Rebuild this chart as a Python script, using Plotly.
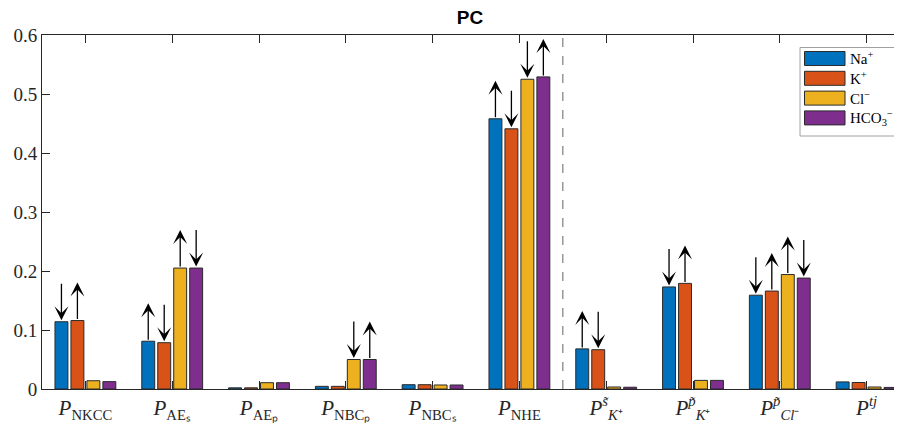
import plotly.graph_objects as go

categories = ["NKCC", "AEs", "AEp", "NBCp", "NBCs", "NHE", "Ks", "Kp", "Clp", "tj"]
tick_labels = [
    "<i>P</i><sub>NKCC</sub>",
    "<i>P</i><sub>AEₛ</sub>",
    "<i>P</i><sub>AEₚ</sub>",
    "<i>P</i><sub>NBCₚ</sub>",
    "<i>P</i><sub>NBCₛ</sub>",
    "<i>P</i><sub>NHE</sub>",
    "<i>P</i><sup><i>s̃</i></sup><sub><i>K</i>⁺</sub>",
    "<i>P</i><sup><i>p̃</i></sup><sub><i>K</i>⁺</sub>",
    "<i>P</i><sup><i>p̃</i></sup><sub><i>Cl</i>⁻</sub>",
    "<i>P<sup>tj</sup></i>",
]
series_names = ["Na<sup>+</sup>", "K<sup>+</sup>", "Cl<sup>−</sup>", "HCO<sub>3</sub><sup>−</sup>"]
na_vals = [0.114, 0.081, 0.002, 0.0045, 0.0073, 0.458, 0.068, 0.173, 0.159, 0.012]
k_vals = [0.116, 0.0785, 0.002, 0.0045, 0.0073, 0.441, 0.0666, 0.179, 0.166, 0.011]
cl_vals = [0.014, 0.205, 0.0107, 0.050, 0.0068, 0.525, 0.0034, 0.0146, 0.194, 0.0034]
hco3_vals = [0.0125, 0.205, 0.0107, 0.050, 0.0068, 0.529, 0.003, 0.0146, 0.188, 0.0027]
# arrow direction per bar: 1 up, -1 down, 0 none
na_dir = [-1, 1, 0, 0, 0, 1, 1, -1, -1, 0]
k_dir = [1, -1, 0, 0, 0, -1, -1, 1, 1, 0]
cl_dir = [0, 1, 0, -1, 0, -1, 0, 0, 1, 0]
hco3_dir = [0, -1, 0, 1, 0, 1, 0, 0, -1, 0]
colors = ["#0072BD", "#D95319", "#EDB120", "#7E2F8E"]
divider_x = 6.5

all_vals = [na_vals, k_vals, cl_vals, hco3_vals]
all_dirs = [na_dir, k_dir, cl_dir, hco3_dir]
xpos = list(range(1, len(categories) + 1))

pitch = 0.184
width = 0.149
W, H = 902, 423
# the page body adds an 8 px offset; margins compensate for it
ml, mr, mt, mb = 34, 0, 27, 42
xr = [0.5, 10.5]
yr = [0, 0.6]
ppu_y = (H - mt - mb) / (yr[1] - yr[0])
arrow_px = 38
edge = "#2a2a2a"
serif = "Liberation Serif"


def px_x(p):
    return (p - ml) / (W - ml - mr)


def px_y(p):
    return (H - mb - p) / (H - mt - mb)


fig = go.Figure()
annotations = []
shapes = []
for s, (name, vals, dirs, col) in enumerate(zip(series_names, all_vals, all_dirs, colors)):
    off = (s - 1.5) * pitch
    fig.add_trace(go.Bar(
        x=xpos, y=vals, name=name, width=width, offset=off - width / 2,
        marker=dict(color=col, line=dict(color=edge, width=1)), showlegend=False,
    ))
    for xi, v, d in zip(xpos, vals, dirs):
        if d == 0:
            continue
        if d > 0:
            tip = v + arrow_px / ppu_y
            ay = arrow_px
        else:
            tip = v + 1.5 / ppu_y
            ay = -arrow_px
        annotations.append(dict(
            x=xi + off, y=tip, xref="x", yref="y", text="", showarrow=True,
            ax=0, ay=ay, arrowhead=3, arrowsize=1.8, arrowwidth=1.3,
            arrowcolor="black", standoff=0,
        ))

# legend box (manual, to match wide swatches)
lg_x0, lg_x1, lg_y0, lg_y1 = 792, 891, 39.5, 128
shapes.append(dict(type="rect", xref="paper", yref="paper",
                   x0=px_x(lg_x0), x1=px_x(lg_x1), y0=px_y(lg_y1), y1=px_y(lg_y0),
                   line=dict(color="#a0a0a0", width=1), fillcolor="white", layer="above"))
for s, (name, col) in enumerate(zip(series_names, colors)):
    cy = 50.5 + s * 19.8
    shapes.append(dict(type="rect", xref="paper", yref="paper",
                       x0=px_x(796.5), x1=px_x(837), y0=px_y(cy + 7), y1=px_y(cy - 7),
                       line=dict(color=edge, width=1), fillcolor=col, layer="above"))
    annotations.append(dict(x=px_x(840), y=px_y(cy), xref="paper", yref="paper",
                            text=name, showarrow=False, xanchor="left", yanchor="middle",
                            font=dict(family=serif, size=15, color="black")))

shapes.append(dict(type="line", xref="x", yref="paper", x0=divider_x, x1=divider_x, y0=0, y1=1,
                   line=dict(color="#888888", width=1.3, dash="dash")))

fig.update_layout(
    width=W, height=H,
    margin=dict(l=ml, r=mr, t=mt, b=mb),
    plot_bgcolor="white", paper_bgcolor="white",
    barmode="overlay",
    showlegend=False,
    title=dict(text="<b>PC</b>", x=462 / W, xanchor="center", y=1 - 9 / H, yanchor="middle",
               font=dict(family="Liberation Sans", size=19, color="black")),
    annotations=annotations,
    shapes=shapes,
)
fig.update_xaxes(
    range=xr, tickmode="array", tickvals=xpos, ticktext=tick_labels,
    ticks="inside", ticklen=8, tickcolor="#262626", showline=True, linecolor="#262626",
    linewidth=1, mirror="ticks", showgrid=False, zeroline=False,
    tickfont=dict(family=serif, size=21, color="#262626"),
)
fig.update_yaxes(
    range=yr, tickmode="array", tickvals=[0, 0.1, 0.2, 0.3, 0.4, 0.5, 0.6],
    ticktext=["0", "0.1", "0.2", "0.3", "0.4", "0.5", "0.6"],
    ticks="inside", ticklen=8, tickcolor="#262626", showline=True, linecolor="#262626",
    linewidth=1, mirror=False, showgrid=False, zeroline=False,
    tickfont=dict(family=serif, size=19, color="#262626"),
)
fig.write_html("out.html")
